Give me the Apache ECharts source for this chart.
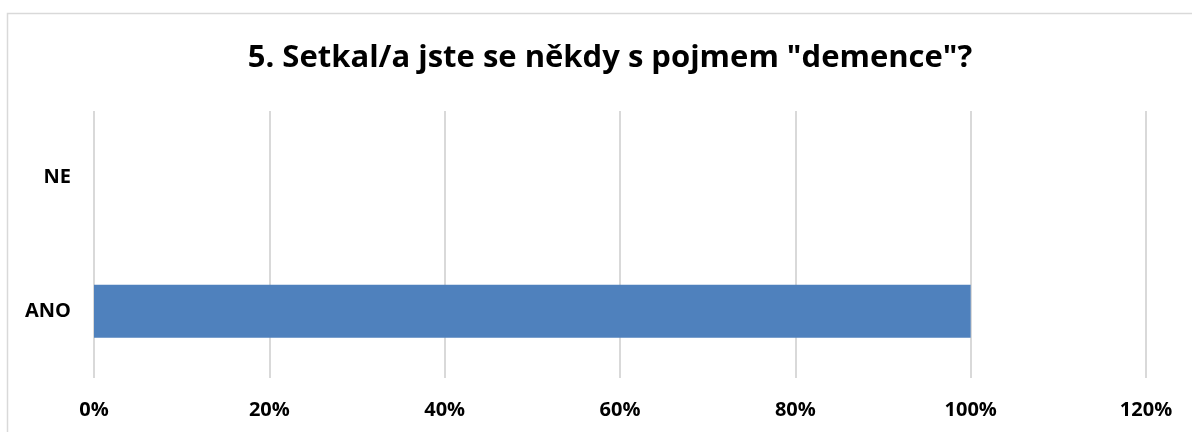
<!DOCTYPE html>
<html>
<head>
<meta charset="utf-8">
<script src="https://cdn.jsdelivr.net/npm/echarts@6/dist/echarts.min.js"></script>
<style>
html,body{margin:0;padding:0;background:#fff;}
#chart{width:1192px;height:432px;}
</style>
</head>
<body>
<div id="chart"></div>
<script>
const titleText = '5. Setkal/a jste se někdy s pojmem "demence"?';
const categories = ['ANO', 'NE'];
const values = [1.0, 0];
const axisMin = 0;
const axisMax = 1.2;
const axisInterval = 0.2;

const chart = echarts.init(document.getElementById('chart'));
const font = '"Open Sans", "Noto Sans", sans-serif';
chart.setOption({
  animation: false,
  backgroundColor: '#ffffff',
  graphic: [{
    type: 'rect',
    shape: { x: 7.5, y: 13.5, width: 1200, height: 440 },
    style: { fill: 'none', stroke: '#d9d9d9', lineWidth: 1.5 },
    silent: true
  }],
  title: {
    text: titleText,
    left: 605,
    top: 38,
    textAlign: 'center',
    textStyle: { fontFamily: font, fontWeight: 'bold', fontSize: 31, color: '#000' }
  },
  grid: { left: 94, right: 46, top: 111, bottom: 54, containLabel: false },
  xAxis: {
    type: 'value',
    min: axisMin, max: axisMax, interval: axisInterval,
    axisLine: { show: false },
    axisTick: { show: false },
    splitLine: { show: true, lineStyle: { color: '#d9d9d9', width: 2 } },
    axisLabel: {
      margin: 22,
      fontFamily: font, fontWeight: 'bold', fontSize: 20, color: '#000',
      formatter: v => Math.round(v * 100) + '%'
    }
  },
  yAxis: {
    type: 'category',
    data: categories,
    axisLine: { show: false },
    axisTick: { show: false },
    axisLabel: { margin: 23, fontFamily: font, fontWeight: 'bold', fontSize: 20, color: '#000' }
  },
  series: [{
    type: 'bar',
    data: values,
    barWidth: 53,
    itemStyle: { color: '#4f81bd' }
  }]
});
</script>
</body>
</html>
